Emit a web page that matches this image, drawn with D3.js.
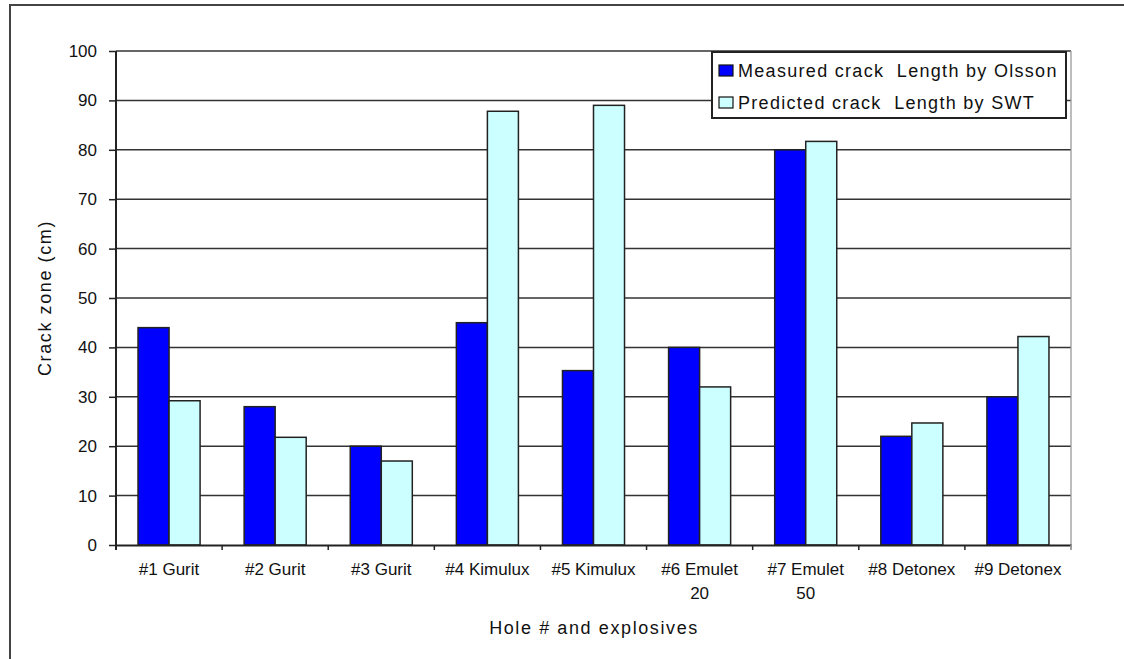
<!DOCTYPE html>
<html>
<head>
<meta charset="utf-8">
<script src="https://cdn.jsdelivr.net/npm/d3@7"></script>
<style>
  html, body { margin: 0; padding: 0; background: #fff; }
  svg { display: block; }
  text { font-family: Arial, "Liberation Sans", sans-serif; fill: #111; }
</style>
</head>
<body>
<script>
// Crack zone per blast hole: measured vs predicted
const categories = [
  ["#1 Gurit"], ["#2 Gurit"], ["#3 Gurit"], ["#4 Kimulux"], ["#5 Kimulux"],
  ["#6 Emulet", "20"], ["#7 Emulet", "50"], ["#8 Detonex"], ["#9 Detonex"]
];
const seriesNames = ["Measured crack  Length by Olsson", "Predicted crack  Length by SWT"];
const measured = [44, 28, 20, 45, 35.3, 40, 80, 22, 30];
const predicted = [29.2, 21.8, 17, 87.8, 89, 32, 81.7, 24.7, 42.2];
const yTicks = [0, 10, 20, 30, 40, 50, 60, 70, 80, 90, 100];
const colors = ["#0000ff", "#ccffff"];
const yTitle = "Crack zone (cm)";
const xTitle = "Hole # and explosives";

const W = 1124, H = 659;
const plot = { left: 116, right: 1071, top: 51, bottom: 545 };

const svg = d3.select("body").append("svg").attr("width", W).attr("height", H);

// outer frame
svg.append("path")
  .attr("d", `M10,${H} L10,5 L${W},5`)
  .attr("fill", "none").attr("stroke", "#444").attr("stroke-width", 2);

const catKeys = categories.map(c => c.join(" "));
const x0 = d3.scaleBand().domain(catKeys).range([plot.left, plot.right]).paddingInner(0).paddingOuter(0);
const x1 = d3.scaleBand().domain([0, 1]).range([0, x0.bandwidth()]).paddingInner(0).paddingOuter(0.71);
const y = d3.scaleLinear().domain([0, 100]).range([plot.bottom, plot.top]);

// gridlines
svg.append("g").selectAll("line").data(yTicks.filter(d => d > 0)).join("line")
  .attr("x1", plot.left).attr("x2", plot.right)
  .attr("y1", d => y(d)).attr("y2", d => y(d))
  .attr("stroke", "#333").attr("stroke-width", 1.5);

// right border of the plot area
svg.append("line")
  .attr("x1", plot.right).attr("x2", plot.right)
  .attr("y1", y(100)).attr("y2", plot.bottom + 5)
  .attr("stroke", "#999").attr("stroke-width", 1.3);

// bars
const rows = catKeys.map((k, i) => ({ key: k, vals: [measured[i], predicted[i]] }));
const groups = svg.append("g").selectAll("g").data(rows).join("g")
  .attr("transform", d => `translate(${x0(d.key)},0)`);
groups.selectAll("rect").data(d => d.vals.map((v, s) => ({ v, s }))).join("rect")
  .attr("x", d => x1(d.s))
  .attr("width", x1.bandwidth())
  .attr("y", d => y(d.v))
  .attr("height", d => y(0) - y(d.v))
  .attr("fill", d => colors[d.s])
  .attr("stroke", "#222").attr("stroke-width", 1.5);

// y axis
const yAxis = svg.append("g").attr("transform", `translate(${plot.left},0)`)
  .call(d3.axisLeft(y).tickValues(yTicks).tickSize(7).tickPadding(12).tickFormat(d3.format("d")));
yAxis.select(".domain").attr("stroke", "#222").attr("stroke-width", 2)
  .attr("d", `M0,${y(100)}V${plot.bottom + 5}`);
yAxis.selectAll(".tick line").attr("stroke", "#222").attr("stroke-width", 1.5);
yAxis.selectAll(".tick text").style("font-size", "17px").attr("fill", "#111")
  .style("font-family", "Arial, 'Liberation Sans', sans-serif");

// x axis
const xAxis = svg.append("g").attr("transform", `translate(0,${plot.bottom})`)
  .call(d3.axisBottom(x0).tickSize(0).tickFormat(""));
xAxis.select(".domain").attr("stroke", "#222").attr("stroke-width", 2);
const edges = catKeys.map(k => x0(k)).concat([plot.right]);
xAxis.append("g").selectAll("line").data(edges).join("line")
  .attr("x1", d => d).attr("x2", d => d).attr("y1", 0).attr("y2", 5)
  .attr("stroke", (d, i) => i === edges.length - 1 ? "#999" : "#222").attr("stroke-width", 1.5);

// category labels (two lines where needed)
const lbl = svg.append("g").selectAll("text").data(categories).join("text")
  .attr("x", (d, i) => x0(catKeys[i]) + x0.bandwidth() / 2)
  .attr("y", 575)
  .attr("text-anchor", "middle")
  .style("font-size", "17px");
lbl.selectAll("tspan").data(d => d).join("tspan")
  .attr("x", function () { return d3.select(this.parentNode).attr("x"); })
  .attr("dy", (d, i) => i === 0 ? 0 : 24)
  .text(d => d);

// axis titles
svg.append("text")
  .attr("transform", `translate(51,${(plot.top + plot.bottom) / 2}) rotate(-90)`)
  .attr("text-anchor", "middle")
  .style("font-size", "18px").style("letter-spacing", "1.6px")
  .text(yTitle);
svg.append("text")
  .attr("x", 594).attr("y", 634)
  .attr("text-anchor", "middle")
  .style("font-size", "18px").style("letter-spacing", "1.6px")
  .text(xTitle);

// legend
const lg = svg.append("g").attr("transform", "translate(712,52)");
lg.append("rect").attr("width", 354).attr("height", 66)
  .attr("fill", "#fff").attr("stroke", "#222").attr("stroke-width", 2);
const items = lg.selectAll("g").data(seriesNames).join("g")
  .attr("transform", (d, i) => `translate(0,${18 + i * 32})`);
items.append("rect").attr("x", 7).attr("y", -5).attr("width", 14).attr("height", 11)
  .attr("fill", (d, i) => colors[i]).attr("stroke", "#111").attr("stroke-width", 1.2);
items.append("text").attr("x", 26).attr("y", 7)
  .style("font-size", "18px").style("letter-spacing", "1.3px")
  .style("white-space", "pre")
  .text(d => d);
</script>
</body>
</html>
